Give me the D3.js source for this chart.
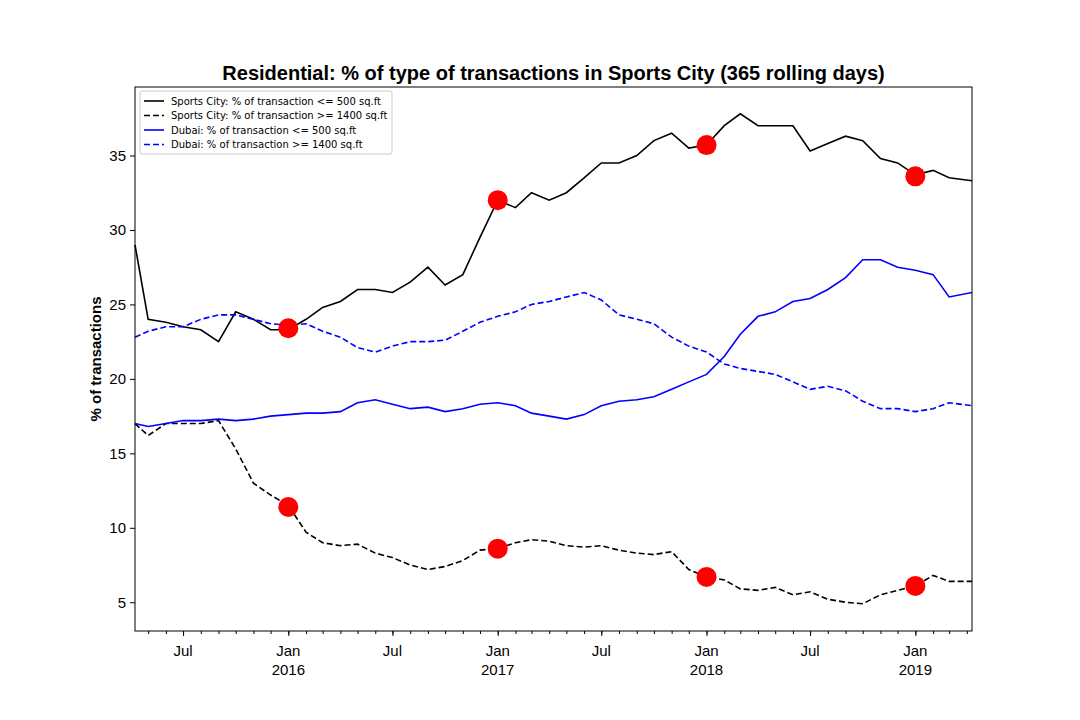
<!DOCTYPE html>
<html><head><meta charset="utf-8">
<script src="https://cdn.jsdelivr.net/npm/d3@7"></script>
<style>body{margin:0;background:#fff;font-family:"DejaVu Sans",sans-serif}</style>
</head><body>
<script>
// monthly readings, Apr 2015 .. Apr 2019
let months = d3.range(49).map(i => new Date(2015, 3 + i, 1));
months[0] = new Date(2015, 3, 8);
months[48] = new Date(2019, 3, 10);

let scSmall = [29, 24, 23.8, 23.5, 23.3, 22.5, 24.5, 24, 23.3,
	23.3, 24, 24.8, 25.2, 26, 26, 25.8, 26.5, 27.5, 26.3, 27, 29.5,
	32, 31.5, 32.5, 32, 32.5, 33.5, 34.5, 34.5, 35, 36, 36.5, 35.5,
	35.7, 37, 37.8, 37, 37, 37, 35.3, 35.8, 36.3, 36, 34.8, 34.5,
	33.7, 34, 33.5, 33.3];
let scLarge = [17, 16.2, 17, 17, 17, 17.2, 15.3, 13, 12.2,
	11.5, 9.7, 9, 8.8, 8.9, 8.3, 8, 7.5, 7.2, 7.4, 7.8, 8.5,
	8.6, 9, 9.2, 9.1, 8.8, 8.7, 8.8, 8.5, 8.3, 8.2, 8.4, 7.2,
	6.7, 6.5, 5.9, 5.8, 6, 5.5, 5.7, 5.2, 5, 4.9, 5.5, 5.8,
	6.1, 6.8, 6.4, 6.4];
let dxbSmall = [17, 16.8, 17, 17.2, 17.2, 17.3, 17.2, 17.3, 17.5,
	17.6, 17.7, 17.7, 17.8, 18.4, 18.6, 18.3, 18, 18.1, 17.8, 18, 18.3,
	18.4, 18.2, 17.7, 17.5, 17.3, 17.6, 18.2, 18.5, 18.6, 18.8, 19.3, 19.8,
	20.3, 21.5, 23, 24.2, 24.5, 25.2, 25.4, 26, 26.8, 28, 28, 27.5,
	27.3, 27, 25.5, 25.8];
let dxbLarge = [22.8, 23.2, 23.5, 23.5, 24, 24.3, 24.3, 24, 23.7,
	23.6, 23.7, 23.2, 22.8, 22.1, 21.8, 22.2, 22.5, 22.5, 22.6, 23.2, 23.8,
	24.2, 24.5, 25, 25.2, 25.5, 25.8, 25.3, 24.3, 24, 23.7, 22.8, 22.2,
	21.8, 21, 20.7, 20.5, 20.3, 19.8, 19.3, 19.5, 19.2, 18.5, 18, 18,
	17.8, 18, 18.4, 18.2];
let dotDates = [new Date(2016, 0, 1), new Date(2017, 0, 1), new Date(2018, 0, 1), new Date(2019, 0, 1)];
let dotSmall = [23.4, 32, 35.7, 33.6];
let dotLarge = [11.4, 8.6, 6.7, 6.1];
let legendLabels = ["Sports City: % of transaction <= 500 sq.ft", "Sports City: % of transaction >= 1400 sq.ft",
	"Dubai: % of transaction <= 500 sq.ft", "Dubai: % of transaction >= 1400 sq.ft"];

let series = [
	{ v: scSmall, color: "black", dash: null },
	{ v: scLarge, color: "black", dash: "6,3" },
	{ v: dxbSmall, color: "blue", dash: null },
	{ v: dxbLarge, color: "blue", dash: "6,3" }
];

let W = 1080, H = 720, L = 135, R = 972, T = 87, B = 631;
let FONT = "Liberation Sans";
let svg = d3.select("body").append("svg").attr("width", W).attr("height", H);

let x = d3.scaleTime().domain([new Date(2015, 3, 8), new Date(2019, 3, 10)]).range([L, R]);
let y = d3.scaleLinear().domain([3.07, 39.6]).range([B, T]);

svg.append("text").attr("x", (L + R) / 2).attr("y", 80).attr("text-anchor", "middle").attr("font-family", FONT)
	.attr("font-size", 20).attr("font-weight", "bold").text("Residential: % of type of transactions in Sports City (365 rolling days)");

// y axis
let yAx = svg.append("g").attr("transform", `translate(${L},0)`)
	.call(d3.axisLeft(y).tickValues([5, 10, 15, 20, 25, 30, 35]).tickSize(5).tickPadding(4));
yAx.selectAll("text").attr("font-size", 15).attr("font-family", FONT);
yAx.select(".domain").remove();

svg.append("text").attr("transform", `translate(101,${(T + B) / 2}) rotate(-90)`).attr("text-anchor", "middle")
	.attr("font-family", FONT).attr("font-size", 15).attr("font-weight", "bold").text("% of transactions");

// x axis: monthly minor, Jan/Jul major
let xg = svg.append("g").attr("transform", `translate(0,${B})`);
xg.call(d3.axisBottom(x).ticks(d3.timeMonth.every(1)).tickSize(3).tickFormat(""));
xg.select(".domain").remove();
let majors = d3.timeMonth.every(6).range(new Date(2015, 3, 8), new Date(2019, 3, 10));
let xg2 = svg.append("g").attr("transform", `translate(0,${B})`)
	.call(d3.axisBottom(x).tickValues(majors).tickSize(5).tickFormat(""));
xg2.select(".domain").remove();
majors.forEach(d => {
	let t = svg.append("text").attr("x", x(d)).attr("y", B + 25).attr("text-anchor", "middle")
		.attr("font-family", FONT).attr("font-size", 15);
	t.append("tspan").attr("x", x(d)).text(d.getMonth() === 0 ? "Jan" : "Jul");
	if (d.getMonth() === 0) t.append("tspan").attr("x", x(d)).attr("dy", 19).text(d.getFullYear());
});

let line = d3.line().x((d, i) => x(months[i])).y(d => y(d));
series.forEach(s => {
	svg.append("path").attr("d", line(s.v)).attr("fill", "none").attr("stroke", s.color)
		.attr("stroke-width", 1.6).attr("stroke-dasharray", s.dash);
});

dotDates.forEach((d, i) => {
	svg.append("circle").attr("cx", x(d)).attr("cy", y(dotSmall[i])).attr("r", 10).attr("fill", "red");
	svg.append("circle").attr("cx", x(d)).attr("cy", y(dotLarge[i])).attr("r", 10).attr("fill", "red");
});

svg.append("rect").attr("x", L).attr("y", T).attr("width", R - L).attr("height", B - T)
	.attr("fill", "none").attr("stroke", "black").attr("stroke-width", 1);

// legend
let lg = svg.append("g").attr("transform", "translate(140,91)");
lg.append("rect").attr("width", 252).attr("height", 63).attr("rx", 2).attr("fill", "white")
	.attr("stroke", "#ccc");
series.forEach((s, i) => {
	let yy = 10 + i * 14.5;
	lg.append("line").attr("x1", 4).attr("x2", 24).attr("y1", yy).attr("y2", yy)
		.attr("stroke", s.color).attr("stroke-width", 1.6).attr("stroke-dasharray", s.dash);
	lg.append("text").attr("x", 31).attr("y", yy + 3.5).attr("font-size", 10).text(legendLabels[i]);
});
</script>
</body></html>
